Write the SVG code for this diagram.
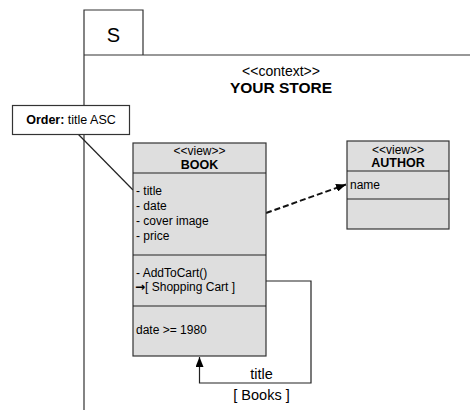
<svg xmlns="http://www.w3.org/2000/svg" width="470" height="410" viewBox="0 0 470 410">
  <style>
    text { font-family: "Liberation Sans", Arial, sans-serif; fill: #000; }
    .frame { fill: none; stroke: #333; stroke-width: 1.2; }
    .box { fill: #dedede; stroke: #333; stroke-width: 1.2; }
    .sep { stroke: #222; stroke-width: 1.2; }
    .note { fill: #fff; stroke: #333; stroke-width: 1.2; }
    .stereo { font-size: 12px; text-anchor: middle; }
    .name { font-size: 12.5px; font-weight: bold; text-anchor: middle; }
    .item { font-size: 12px; }
    .label { font-size: 14.5px; text-anchor: middle; }
    .wire { fill: none; stroke: #222; stroke-width: 1.2; }
    .dash { fill: none; stroke: #111; stroke-width: 2; stroke-dasharray: 6 3; }
  </style>
  <defs>
    <marker id="head" viewBox="0 0 10 8" refX="10" refY="4" markerWidth="10" markerHeight="8" markerUnits="userSpaceOnUse" orient="auto">
      <path d="M0,0 L10,4 L0,8 Z" fill="#000"/>
    </marker>
  </defs>

  <!-- context frame with its tab -->
  <g id="context-frame">
    <path class="frame" d="M84,410 V10 H143 V55"/>
    <line class="frame" x1="84" y1="55" x2="470" y2="55"/>
    <text x="113.5" y="41.5" font-size="20" text-anchor="middle">S</text>
    <text x="281" y="76" font-size="14" text-anchor="middle">&lt;&lt;context&gt;&gt;</text>
    <text x="281" y="92.5" font-size="15.5" font-weight="bold" text-anchor="middle">YOUR STORE</text>
  </g>

  <!-- connectors -->
  <g id="connectors">
    <line class="wire" x1="78" y1="134" x2="133" y2="190"/>
    <line class="dash" x1="266" y1="213" x2="346" y2="184.5" marker-end="url(#head)"/>
    <polyline class="wire" points="266,281 311,281 311,383 199.5,383 199.5,357" marker-end="url(#head)"/>
    <text class="label" x="261.5" y="379">title</text>
    <text class="label" x="261.5" y="400">[ Books ]</text>
  </g>

  <!-- ordering note -->
  <g id="order-note">
    <rect class="note" x="12.5" y="105.5" width="117" height="29"/>
    <text x="71" y="124" font-size="12.5" text-anchor="middle"><tspan font-weight="bold">Order:</tspan> title ASC</text>
  </g>

  <!-- BOOK view -->
  <g id="book">
    <rect class="box" x="133" y="143" width="133" height="213"/>
    <line class="sep" x1="133" y1="173" x2="266" y2="173"/>
    <line class="sep" x1="133" y1="255" x2="266" y2="255"/>
    <line class="sep" x1="133" y1="306" x2="266" y2="306"/>
    <text class="stereo" x="199.5" y="155">&lt;&lt;view&gt;&gt;</text>
    <text class="name" x="199.5" y="168.5">BOOK</text>
    <text class="item" x="136" y="195">- title</text>
    <text class="item" x="136" y="210">- date</text>
    <text class="item" x="136" y="225">- cover image</text>
    <text class="item" x="136" y="240">- price</text>
    <text class="item" x="136" y="276.5">- AddToCart()</text>
    <text class="item" x="135" y="290.5"><tspan font-family="'DejaVu Sans', sans-serif" font-size="12" font-weight="bold">→</tspan>[ Shopping Cart ]</text>
    <text class="item" x="136" y="334">date &gt;= 1980</text>
  </g>

  <!-- AUTHOR view -->
  <g id="author">
    <rect class="box" x="347" y="141" width="102" height="88"/>
    <line class="sep" x1="347" y1="171" x2="449" y2="171"/>
    <line class="sep" x1="347" y1="199" x2="449" y2="199"/>
    <text class="stereo" x="398" y="154">&lt;&lt;view&gt;&gt;</text>
    <text class="name" x="398" y="167">AUTHOR</text>
    <text class="item" x="350" y="189">name</text>
  </g>
</svg>
